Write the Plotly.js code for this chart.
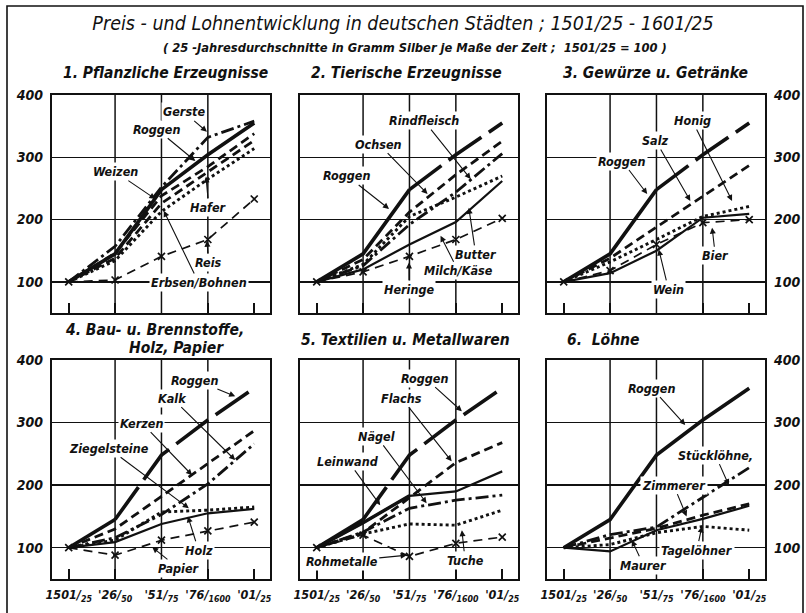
<!DOCTYPE html>
<html><head><meta charset="utf-8">
<script src="https://cdn.plot.ly/plotly-3.0.1.min.js"></script>
<style>html,body{margin:0;padding:0;background:#fff}#chart{width:806px;height:613px}</style>
</head><body><div id="chart"></div>
<script>
// ---------- data ----------
const periodIndex = [0, 1, 2, 3, 4];
const periodLabels = ["1501/<sub>25</sub>", "'26/<sub>50</sub>", "'51/<sub>75</sub>", "'76/<sub>1600</sub>", "'01/<sub>25</sub>"];
const yTickValues = [100, 200, 300, 400];

const roggen = [100, 145, 248, 304, 355];

// 1. Pflanzliche Erzeugnisse
const gerste = [100, 157, 252, 332, 358];
const weizen = [100, 146, 238, 285, 338];
const hafer = [100, 138, 226, 276, 327];
const erbsenBohnen = [100, 134, 213, 265, 314];
const reis = [100, 103, 141, 168, 233];

// 2. Tierische Erzeugnisse
const ochsen = [100, 136, 212, 272, 326];
const rindfleisch = [100, 126, 192, 244, 306];
const butter = [100, 128, 205, 236, 270];
const milchKaese = [100, 120, 160, 196, 262];
const heringe = [100, 116, 141, 168, 202];

// 3. Gewürze u. Getränke
const salz = [100, 138, 188, 238, 287];
const honig = [100, 132, 168, 205, 221];
const wein = [100, 114, 150, 203, 209];
const bier = [100, 118, 160, 195, 200];

// 4. Bau- u. Brennstoffe, Holz, Papier
const kerzen = [100, 130, 182, 235, 287];
const kalk = [100, 116, 153, 202, 266];
const ziegelsteine = [100, 112, 157, 160, 165];
const holz = [100, 109, 138, 155, 162];
const papier = [100, 88, 112, 127, 141];

// 5. Textilien u. Metallwaren
const flachs = [100, 124, 180, 236, 268];
const leinwand = [100, 140, 183, 190, 222];
const naegel = [100, 125, 163, 176, 184];
const tuche = [100, 122, 138, 136, 160];
const rohmetalle = [100, 120, 86, 107, 117];

// 6. Löhne
const stueckloehne = [100, 121, 133, 180, 228];
const zimmerer = [100, 116, 131, 152, 170];
const maurer = [100, 94, 128, 146, 167];
const tageloehner = [100, 105, 124, 134, 128];

// ---------- styles ----------
const FONT = "DejaVu Sans Condensed, Liberation Sans Narrow, DejaVu Sans, sans-serif";
const INK = '#111';
const STY = {
  thick:  {mode: 'lines', line: {color: INK, width: 3.6}},
  broken: {mode: 'lines', line: {color: INK, width: 3.6, dash: '40px,9px'}},
  dash:   {mode: 'lines', line: {color: INK, width: 2.8, dash: '9px,5px'}},
  dashdot:{mode: 'lines', line: {color: INK, width: 2.8, dash: '13px,4px,3px,4px'}},
  dot:    {mode: 'lines', line: {color: INK, width: 2.9, dash: 'dot'}},
  thin:   {mode: 'lines', line: {color: INK, width: 2.2}},
  cross:  {mode: 'lines+markers', line: {color: INK, width: 1.7, dash: '9px,6px'},
           marker: {symbol: 'x-thin', size: 7, color: INK, line: {width: 1.7, color: INK}}}
};

function tr(panel, name, xs, ys, st) {
  const s = panel === 1 ? '' : String(panel);
  return Object.assign({type: 'scatter', name: name, x: xs, y: ys, xaxis: 'x' + s, yaxis: 'y' + s,
    hoverinfo: 'name+y', cliponaxis: true}, JSON.parse(JSON.stringify(st)));
}

const traces = [
  // panel 1
  tr(1, 'Reis', periodIndex, reis, STY.cross),
  tr(1, 'Erbsen/Bohnen', periodIndex, erbsenBohnen, STY.dot),
  tr(1, 'Hafer', periodIndex, hafer, STY.dash),
  tr(1, 'Weizen', periodIndex, weizen, STY.dash),
  tr(1, 'Roggen', periodIndex, roggen, STY.thick),
  tr(1, 'Gerste', periodIndex, gerste, STY.dashdot),
  // panel 2
  tr(2, 'Heringe', periodIndex, heringe, STY.cross),
  tr(2, 'Milch/Käse', periodIndex, milchKaese, STY.thin),
  tr(2, 'Butter', periodIndex, butter, STY.dot),
  tr(2, 'Rindfleisch', periodIndex, rindfleisch, STY.dashdot),
  tr(2, 'Ochsen', periodIndex, ochsen, STY.dash),
  tr(2, 'Roggen', periodIndex.slice(0, 3), roggen.slice(0, 3), STY.thick),
  tr(2, 'Roggen', periodIndex.slice(2), roggen.slice(2), STY.broken),
  // panel 3
  tr(3, 'Bier', periodIndex, bier, STY.cross),
  tr(3, 'Wein', periodIndex, wein, STY.thin),
  tr(3, 'Honig', periodIndex, honig, STY.dot),
  tr(3, 'Salz', periodIndex, salz, STY.dash),
  tr(3, 'Roggen', periodIndex.slice(0, 3), roggen.slice(0, 3), STY.thick),
  tr(3, 'Roggen', periodIndex.slice(2), roggen.slice(2), STY.broken),
  // panel 4
  tr(4, 'Papier', periodIndex, papier, STY.cross),
  tr(4, 'Holz', periodIndex, holz, STY.thin),
  tr(4, 'Ziegelsteine', periodIndex, ziegelsteine, STY.dot),
  tr(4, 'Kalk', periodIndex, kalk, STY.dashdot),
  tr(4, 'Kerzen', periodIndex, kerzen, STY.dash),
  tr(4, 'Roggen', periodIndex.slice(0, 2), roggen.slice(0, 2), STY.thick),
  tr(4, 'Roggen', periodIndex.slice(1), roggen.slice(1), STY.broken),
  // panel 5
  tr(5, 'Rohmetalle', periodIndex, rohmetalle, STY.cross),
  tr(5, 'Tuche', periodIndex, tuche, STY.dot),
  tr(5, 'Nägel', periodIndex, naegel, STY.dashdot),
  tr(5, 'Leinwand', periodIndex, leinwand, STY.thin),
  tr(5, 'Flachs', periodIndex, flachs, STY.dash),
  tr(5, 'Roggen', periodIndex.slice(0, 2), roggen.slice(0, 2), STY.thick),
  tr(5, 'Roggen', periodIndex.slice(1), roggen.slice(1), STY.broken),
  // panel 6
  tr(6, 'Tagelöhner', periodIndex, tageloehner, STY.dot),
  tr(6, 'Maurer', periodIndex, maurer, STY.thin),
  tr(6, 'Zimmerer', periodIndex, zimmerer, STY.dash),
  tr(6, 'Stücklöhne', periodIndex, stueckloehne, STY.dashdot),
  tr(6, 'Roggen', periodIndex, roggen, STY.thick)
];
// Leinwand: heavier stroke over its first part
traces.push(Object.assign(tr(5, 'Leinwand', periodIndex.slice(0, 3), leinwand.slice(0, 3), STY.thin), {line: {color: INK, width: 3.4}}));

// ---------- layout ----------
const W = 806, H = 613;
const colX = [[52, 270], [300, 518], [547, 765]];
const rowY = [[95, 313], [360, 579]];
const tickFont = {family: FONT, size: 14, color: INK, weight: 'bold', style: 'italic'};
const xTickFont = {family: FONT, size: 12.5, color: INK, weight: 'bold', style: 'italic'};

const layout = {
  width: W, height: H, showlegend: false,
  margin: {l: 0, r: 0, t: 0, b: 0},
  paper_bgcolor: 'white', plot_bgcolor: 'white',
  title: {text: 'Preis - und Lohnentwicklung in deutschen Städten ; 1501/25 - 1601/25',
    x: 0.5, xanchor: 'center', y: 1 - 23 / H, yanchor: 'middle',
    font: {family: FONT, size: 19.5, color: INK, style: 'italic'}},
  annotations: [], shapes: []
};

for (let p = 1; p <= 6; p++) {
  const s = p === 1 ? '' : String(p);
  const col = (p - 1) % 3, row = p <= 3 ? 0 : 1;
  const xd = [colX[col][0] / W, colX[col][1] / W];
  const yd = [1 - rowY[row][1] / H, 1 - rowY[row][0] / H];
  layout['xaxis' + s] = {
    domain: xd, anchor: 'y' + s, range: [-0.36, 4.34],
    tickvals: periodIndex, ticktext: periodLabels,
    showticklabels: row === 1, tickfont: xTickFont, ticklabelstandoff: 3,
    ticks: 'inside', ticklen: 10, tickwidth: 1.6, tickcolor: INK,
    showgrid: false, zeroline: false,
    showline: true, mirror: true, linecolor: INK, linewidth: 2.2, fixedrange: true
  };
  layout['yaxis' + s] = {
    domain: yd, anchor: 'x' + s, range: [50, 400],
    tickvals: yTickValues, side: col === 2 ? 'right' : 'left',
    showticklabels: col !== 1, tickfont: tickFont, ticks: '', ticklabelstandoff: 4,
    showgrid: true, gridcolor: INK, gridwidth: 1.5, zeroline: false,
    showline: true, mirror: true, linecolor: INK, linewidth: 2.2, fixedrange: true
  };
  [1, 2, 3].forEach(k => layout.shapes.push({
    type: 'line', xref: 'x' + s, yref: 'y' + s + ' domain', x0: k, x1: k, y0: 0, y1: 1,
    line: {color: INK, width: 1.5}, layer: 'below'
  }));
}

// outer frame
layout.shapes.push({type: 'rect', xref: 'paper', yref: 'paper', x0: 7 / W, x1: 803 / W, y0: -0.05, y1: 1 - 6 / H,
  line: {color: INK, width: 1.6}, fillcolor: 'rgba(0,0,0,0)'});

// headings
function paperText(text, px, py, size, anchor, weight) {
  layout.annotations.push({xref: 'paper', yref: 'paper', x: px / W, y: 1 - py / H,
    xanchor: anchor || 'center', yanchor: 'middle', showarrow: false, text: text,
    font: {family: FONT, size: size, color: INK, weight: weight || 'bold', style: 'italic'}});
}
paperText('( 25 -Jahresdurchschnitte in Gramm Silber je Maße der Zeit ;  1501/25 = 100 )', 415, 47, 12.8);
paperText('1. Pflanzliche Erzeugnisse', 165, 73, 15.5);
paperText('2. Tierische Erzeugnisse', 406, 73, 15.5);
paperText('3. Gewürze u. Getränke', 655, 73, 15.5);
paperText('4. Bau- u. Brennstoffe,', 155, 330, 15.5);
paperText('Holz, Papier', 176, 348, 15.5);
paperText('5. Textilien u. Metallwaren', 405, 340, 15.5);
paperText('6.  Löhne', 565, 340, 15.5, 'left');

// series labels with arrows
const labelFont = {family: FONT, size: 12.5, color: INK, weight: 'bold', style: 'italic'};
function lab(p, text, lx, ly, tx, ty) {
  const s = p === 1 ? '' : String(p);
  layout.annotations.push({xref: 'x' + s, yref: 'y' + s, axref: 'x' + s, ayref: 'y' + s,
    x: tx, y: ty, ax: lx, ay: ly, text: text, showarrow: true,
    arrowhead: 2, arrowsize: 1.1, arrowwidth: 1.1, arrowcolor: INK, standoff: 0,
    bgcolor: 'white', borderpad: 1, font: labelFont});
}
lab(1, 'Gerste', 2.48, 373, 2.98, 341);
lab(1, 'Roggen', 1.90, 345, 2.73, 294);
lab(1, 'Weizen', 1.0, 277, 1.87, 233);
lab(1, 'Hafer', 3.02, 220, 2.96, 269);
lab(1, 'Reis', 3.02, 131, 2.98, 166);
lab(1, 'Erbsen/Bohnen', 2.80, 99, 2.05, 214);

lab(2, 'Rindfleisch', 2.31, 359, 3.32, 265);
lab(2, 'Ochsen', 1.34, 321, 2.39, 241);
lab(2, 'Roggen', 0.66, 270, 1.56, 217);
lab(2, 'Butter', 3.43, 144, 3.28, 219);
lab(2, 'Milch/Käse', 3.05, 118, 2.67, 174);
lab(2, 'Heringe', 1.99, 88, 1.99, 131);

lab(3, 'Honig', 2.77, 359, 3.63, 230);
lab(3, 'Salz', 1.98, 327, 2.73, 230);
lab(3, 'Roggen', 1.26, 294, 1.80, 241);
lab(3, 'Bier', 3.27, 142, 3.20, 187);
lab(3, 'Wein', 2.26, 88, 2.05, 152);

lab(4, 'Roggen', 2.73, 368, 3.59, 342);
lab(4, 'Kalk', 2.23, 339, 3.59, 240);
lab(4, 'Kerzen', 1.58, 299, 2.66, 216);
lab(4, 'Ziegelsteine', 0.86, 259, 2.59, 163);
lab(4, 'Holz', 2.80, 96, 2.57, 150);
lab(4, 'Papier', 2.37, 67, 1.80, 101);

lab(5, 'Roggen', 2.34, 371, 3.13, 318);
lab(5, 'Flachs', 1.83, 339, 2.91, 238);
lab(5, 'Nägel', 1.29, 278, 2.37, 171);
lab(5, 'Leinwand', 0.68, 238, 1.37, 168);
lab(5, 'Rohmetalle', 0.54, 78, 1.94, 88);
lab(5, 'Tuche', 3.20, 80, 3.13, 128);

lab(6, 'Roggen', 1.90, 355, 2.62, 296);
lab(6, 'Stücklöhne,', 3.27, 248, 3.56, 200);
lab(6, 'Zimmerer', 2.37, 200, 2.65, 150);
lab(6, 'Tagelöhner', 2.87, 96, 2.98, 134);
lab(6, 'Maurer', 1.72, 72, 1.47, 112);

Plotly.newPlot('chart', traces, layout, {displayModeBar: false, staticPlot: true});
</script>
</body></html>
